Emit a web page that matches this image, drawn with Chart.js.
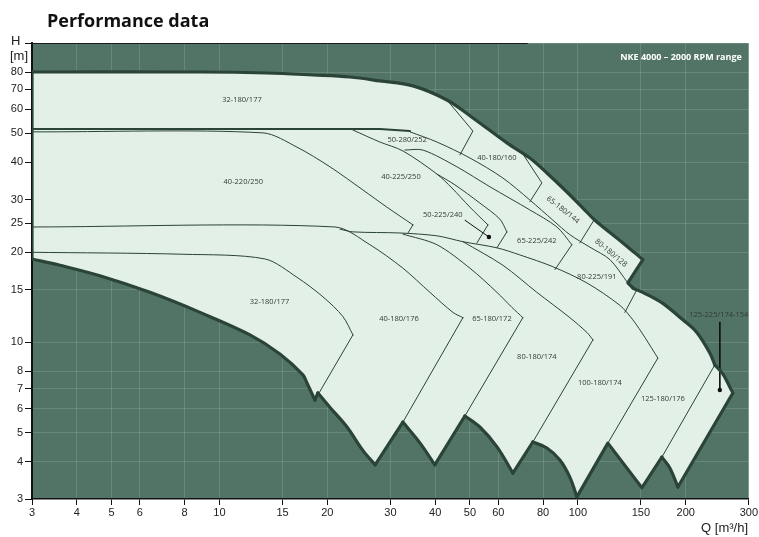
<!DOCTYPE html>
<html>
<head>
<meta charset="utf-8">
<script src="https://cdn.jsdelivr.net/npm/chart.js@4.4.1/dist/chart.umd.min.js"></script>
<style>
  html, body { margin: 0; padding: 0; background: #fff; }
  #wrap { position: relative; width: 759px; height: 537px; }
</style>
</head>
<body>
<div id="wrap"><canvas id="chart"></canvas></div>
<script>
// axis ticks
const xTicks = [3, 4, 5, 6, 8, 10, 15, 20, 30, 40, 50, 60, 80, 100, 150, 200, 300];
const yTicks = [3, 4, 5, 6, 7, 8, 10, 15, 20, 25, 30, 40, 50, 60, 70, 80, 100];

// outer envelope of the whole range, [Q m3/h, H m], walked clockwise in pieces
const envTop = [[3, 80], [8.83, 80], [13.57, 79.4], [18.23, 78.2], [23.13, 77.0], [28.04, 74.7],
  [34.67, 71.9], [43.13, 64.5], [50.97, 56.2], [63.4, 46.4], [73.48, 41.3], [81.98, 36.8],
  [93.25, 31.8], [103.3, 28.1], [111.6, 25.6], [133.6, 21.5], [151.9, 18.9]];
const envJag = [[151.9, 18.9], [137.9, 15.8], [142.4, 15.2]];
const envRight = [[142.4, 15.2], [158.8, 14.3], [172.7, 13.5], [196.4, 11.9], [214.8, 10.8],
  [233.5, 9.22], [241.1, 8.41]];
const envNose = [[241.1, 8.41], [253.8, 7.85], [265.5, 7.1], [270.7, 6.78]];
const envDrop = [[270.7, 6.78], [190.2, 3.29]];
const envScallop1 = [[190.2, 3.29], [180.6, 3.81], [171.6, 4.14]];
const envZig1 = [[171.6, 4.14], [150.9, 3.27], [121.3, 4.61], [99.4, 3.05]];
const envScallop2 = [[99.4, 3.05], [95.0, 3.55], [89.1, 4.05], [82.0, 4.44], [74.9, 4.65]];
const envZig2 = [[74.9, 4.65], [65.9, 3.66]];
const envScallop3 = [[65.9, 3.66], [59.5, 4.48], [53.3, 5.22], [48.4, 5.68]];
const envZig3 = [[48.4, 5.68], [39.9, 3.9]];
const envScallop4 = [[39.9, 3.9], [36.3, 4.61], [32.5, 5.42]];
const envZig4 = [[32.5, 5.42], [27.2, 3.9]];
const envScallop5 = [[27.2, 3.9], [25.1, 4.37], [22.7, 5.22], [20.3, 6.09], [18.83, 6.78]];
const envNotch = [[18.83, 6.78], [18.47, 6.42]];
const envLow = [[18.47, 6.42], [17.55, 7.32], [17.1, 7.79], [14.75, 9.15], [12.17, 10.6], [8.83, 12.6],
  [6.4, 14.7], [4.64, 16.7], [3.59, 18.1], [3, 19.0]];
const envLeft = [[3, 19.0], [3, 80]];

const envCurved = [envTop, envRight, envNose, envScallop1, envScallop2, envScallop3, envScallop4,
  envScallop5, envLow];
const envStraight = [envJag, envDrop, envZig1, envZig2, envZig3, envZig4, envNotch, envLeft];
const envOrder = [envTop, envJag, envRight, envNose, envDrop, envScallop1, envZig1, envScallop2, envZig2,
  envScallop3, envZig3, envScallop4, envZig4, envScallop5, envNotch, envLow, envLeft];

// boundaries between the pump types (last segment is the straight cut-off edge)
const line51 = [[3, 51.6], [28.04, 51.6], [34.01, 50.8]];
const lineA = [[34.01, 50.5], [40.45, 46.7], [50.0, 41.3], [61.8, 35.4], [73.48, 29.9], [85.21, 25.6],
  [95.02, 22.9], [108.1, 20.8], [122.9, 18.9], [137.9, 15.8], [137.9, 15.8]];
const line40_220 = [[3, 50.5], [13.23, 50.1], [16.46, 44.9], [20.34, 38.6], [25.14, 32.3], [29.33, 28.3],
  [34.67, 24.7], [33.58, 23.2]];
const line40_225 = [[23.58, 51.2], [28.04, 46.7], [32.51, 43.6], [40.45, 36.5], [44.53, 32.8], [50.0, 28.3],
  [56.13, 24.7], [52.3, 21.5]];
const line65_225 = [[40.45, 36.5], [45.4, 33.6], [53.31, 29.2], [60.62, 25.8], [63.4, 23.4], [59.47, 20.7]];
const line50_280 = [[32.93, 43.9], [36.97, 43.9], [45.98, 38.6], [56.85, 33.1], [73.48, 27.7], [87.42, 24.3],
  [96.26, 21.2], [86.3, 17.5]];
const line32_180top = [[43.13, 64.5], [50.97, 50.8], [46.89, 42.3]];
const line40_180_160 = [[70.25, 42.6], [79.38, 34.1], [73.48, 29.5]];
const line65_180_144 = [[110.9, 25.6], [101.3, 21.5]];
const line80_225 = [[146.1, 15.0], [135.3, 12.6]];
const line100_180 = [[21.69, 23.9], [23.58, 23.4], [31.89, 23.2], [40.45, 22.7], [47.8, 21.7], [59.47, 20.7],
  [68.91, 19.6], [85.21, 17.9], [106.0, 15.8], [131.0, 13.3], [142.4, 11.9], [153.8, 10.4],
  [167.2, 8.87], [121.3, 4.61]];
const line65_180_172 = [[32.51, 23.0], [40.45, 21.2], [50.0, 17.7], [59.47, 14.7], [65.46, 13.1],
  [70.25, 12.1], [48.41, 5.68]];
const line80_180_174 = [[47.8, 21.7], [61.8, 18.1], [76.86, 14.7], [95.02, 12.1], [106.0, 10.8],
  [110.2, 10.2], [74.91, 4.65]];
const line40_180_176 = [[3, 24.3], [21.01, 24.3], [26.3, 21.2], [32.51, 17.7], [38.67, 14.7], [44.83, 12.6],
  [47.8, 12.1], [32.51, 5.42]];
const line32_180low = [[3, 20.0], [7.91, 19.7], [13.4, 19.0], [16.46, 16.5], [19.45, 14.2], [22.11, 12.2],
  [23.58, 10.6], [18.47, 6.42]];
const line125_180 = [[241.1, 8.41], [171.6, 4.14]];

const innerLines = [lineA, line40_220, line40_225, line65_225, line50_280, line32_180top, line40_180_160,
  line65_180_144, line80_225, line100_180, line65_180_172, line80_180_174, line40_180_176,
  line32_180low, line125_180];

// leader lines to small labels
const leader50_225 = [[48.41, 25.6], [56.49, 22.5]];
const leader125_225 = [[249.0, 11.7], [249.0, 6.94]];

// region labels
const labelText = ['32-180/177', '40-220/250', '50-280/252', '40-225/250', '40-180/160', '50-225/240',
  '65-180/144', '65-225/242', '80-180/128', '80-225/191', '125-225/174-154', '32-180/177',
  '40-180/176', '65-180/172', '80-180/174', '100-180/174', '125-180/176'];
const labelQ = [11.56, 11.66, 33.4, 32.1, 59.47, 42.0, 90.9, 76.86, 123.7, 113.0, 247.4, 13.8,
  31.7, 57.6, 76.86, 115.2, 172.7];
const labelH = [64.5, 34.4, 47.5, 35.7, 41.3, 26.7, 27.7, 21.8, 19.9, 16.5, 12.4, 13.65,
  12.0, 12.0, 8.94, 7.32, 6.47];
const labelAngle = [0, 0, 0, 0, 0, 0, 38, 0, 40, 0, 0, 0, 0, 0, 0, 0, 0];

const BG = '#527466';
const FILL = '#e3f0e7';
const EDGE = '#2b4438';

function pts(arr) {
  return arr.map(function(p) { return { x: p[0], y: p[1] }; });
}

function lineSet(arr, width, tension, order, color) {
  return {
    data: pts(arr), showLine: true, fill: false, borderColor: color || EDGE, borderWidth: width,
    tension: tension, borderCapStyle: 'round', borderJoinStyle: 'round', pointRadius: 0, order: order
  };
}

const datasets = [];

// filled area of the whole range
let polygon = [];
envOrder.forEach(function(part) { polygon = polygon.concat(part); });
datasets.push({
  data: pts(polygon), showLine: true, fill: 'shape', backgroundColor: FILL,
  borderColor: 'rgba(0,0,0,0)', borderWidth: 0, pointRadius: 0, order: 10
});

// thin inner boundaries: smooth curve, then straight cut-off edge
innerLines.forEach(function(l) {
  if (l.length > 3) {
    datasets.push(lineSet(l.slice(0, l.length - 1), 1, 0.3, 5));
    datasets.push(lineSet(l.slice(l.length - 2), 1, 0, 5));
  } else {
    datasets.push(lineSet(l, 1, 0, 5));
  }
});
datasets.push(lineSet(line51, 2, 0, 4));

[leader50_225, leader125_225].forEach(function(l) {
  const d = lineSet(l, 1, 0, 3, '#111');
  d.pointRadius = [0, 2.2];
  d.pointBackgroundColor = '#111';
  d.pointBorderWidth = 0;
  datasets.push(d);
});

// thick outline on top
envCurved.forEach(function(p) { datasets.push(lineSet(p, 3.2, 0.35, 1)); });
envStraight.forEach(function(p) { datasets.push(lineSet(p, 3.2, 0, 1)); });

const decor = {
  id: 'decor',
  beforeDraw: function(chart) {
    const a = chart.chartArea, ctx = chart.ctx;
    ctx.save();
    ctx.fillStyle = BG;
    ctx.fillRect(a.left, a.top, a.right - a.left, a.bottom - a.top);
    ctx.restore();
  },
  afterDatasetsDraw: function(chart) {
    const ctx = chart.ctx, xs = chart.scales.x, ys = chart.scales.y, a = chart.chartArea;
    ctx.save();
    ctx.font = '7.5px "Open Sans"';
    ctx.fillStyle = '#333a36';
    ctx.textAlign = 'center';
    ctx.textBaseline = 'middle';
    for (let i = 0; i < labelText.length; i++) {
      ctx.save();
      ctx.translate(xs.getPixelForValue(labelQ[i]), ys.getPixelForValue(labelH[i]));
      ctx.rotate(labelAngle[i] * Math.PI / 180);
      ctx.fillText(labelText[i], 0, 0);
      ctx.restore();
    }
    // range title
    ctx.font = 'bold 9px "Open Sans"';
    ctx.fillStyle = '#ffffff';
    ctx.textAlign = 'right';
    ctx.fillText('NKE 4000 \u2013 2000 RPM range', a.right - 7, a.top + 14);
    // partial top border
    ctx.strokeStyle = '#1a1a1a';
    ctx.lineWidth = 1;
    ctx.beginPath();
    ctx.moveTo(a.left, a.top + 0.5);
    ctx.lineTo(xs.getPixelForValue(72.5), a.top + 0.5);
    ctx.stroke();
    ctx.restore();
  },
  afterDraw: function(chart) {
    const ctx = chart.ctx;
    ctx.save();
    ctx.fillStyle = '#111';
    ctx.font = 'bold 18px "Open Sans"';
    ctx.textAlign = 'left';
    ctx.textBaseline = 'alphabetic';
    ctx.fillText('Performance data', 47, 27);
    ctx.font = '13px "Liberation Sans"';
    ctx.fillStyle = '#222';
    ctx.fillText('H', 11, 45);
    ctx.fillText('[m]', 10, 60);
    ctx.textAlign = 'right';
    ctx.fillText('Q [m\u00b3/h]', 748, 532);
    ctx.restore();
  }
};

new Chart(document.getElementById('chart'), {
  type: 'scatter',
  data: { datasets: datasets },
  options: {
    responsive: true,
    maintainAspectRatio: false,
    animation: false,
    layout: { autoPadding: false, padding: { left: 0, right: 10, top: 43, bottom: 0 } },
    plugins: { legend: { display: false }, tooltip: { enabled: false } },
    scales: {
      x: {
        type: 'logarithmic', min: 3, max: 300,
        afterBuildTicks: function(s) { s.ticks = xTicks.map(function(v) { return { value: v }; }); },
        afterFit: function(s) { s.height = 38; },
        ticks: {
          autoSkip: false, maxRotation: 0, padding: 1, color: '#222',
          font: { family: 'Liberation Sans', size: 11 },
          callback: function(v) { return String(v); }
        },
        grid: { color: 'rgba(255,255,255,0.13)', tickColor: '#111', tickLength: 6 },
        border: { color: '#111', width: 1.5 }
      },
      y: {
        type: 'logarithmic', min: 3, max: 100,
        afterBuildTicks: function(s) { s.ticks = yTicks.map(function(v) { return { value: v }; }); },
        afterFit: function(s) { s.width = 32; },
        ticks: {
          autoSkip: false, padding: 2, color: '#222',
          font: { family: 'Liberation Sans', size: 11 },
          callback: function(v) { return v === 100 ? '' : String(v); }
        },
        grid: { color: 'rgba(255,255,255,0.13)', tickColor: '#111', tickLength: 7 },
        border: { color: '#111', width: 2 }
      }
    }
  },
  plugins: [decor]
});
</script>
</body>
</html>
